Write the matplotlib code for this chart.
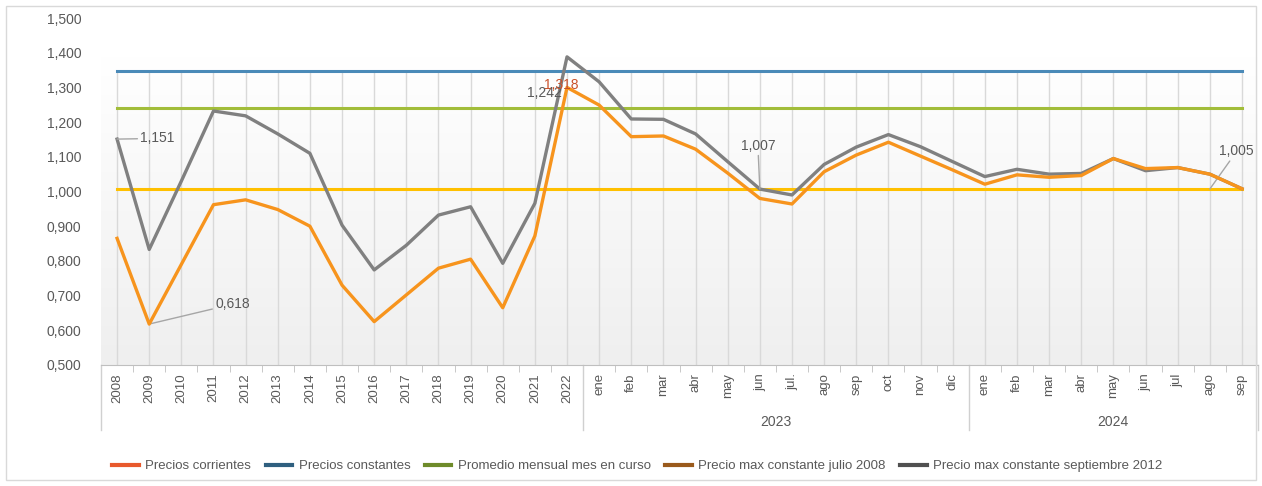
import numpy as np
import matplotlib.pyplot as plt
from matplotlib.lines import Line2D
from matplotlib.ticker import FuncFormatter

plt.rcParams['font.family'] = ['Liberation Sans', 'DejaVu Sans']

# datos
anios = [str(a) for a in range(2008, 2023)]
meses_2023 = ['ene', 'feb', 'mar', 'abr', 'may', 'jun', 'jul.', 'ago', 'sep', 'oct', 'nov', 'dic']
meses_2024 = ['ene', 'feb', 'mar', 'abr', 'may', 'jun', 'jul', 'ago', 'sep']
categorias = anios + meses_2023 + meses_2024

precios_corrientes = [0.865, 0.618, 0.790, 0.962, 0.976, 0.948, 0.900, 0.730, 0.625, 0.702, 0.779, 0.805, 0.665, 0.872, 1.300,
                      1.249, 1.158, 1.160, 1.122, 1.053, 0.980, 0.964, 1.057, 1.105, 1.142, 1.102, 1.062,
                      1.021, 1.048, 1.041, 1.046, 1.095, 1.066, 1.069, 1.050, 1.008]
precios_constantes = [1.151, 0.833, 1.030, 1.232, 1.218, 1.166, 1.110, 0.903, 0.774, 0.845, 0.932, 0.956, 0.793, 0.966, 1.388,
                      1.316, 1.209, 1.208, 1.166, 1.086, 1.007, 0.990, 1.078, 1.128, 1.164, 1.129, 1.086,
                      1.043, 1.064, 1.050, 1.052, 1.095, 1.060, 1.069, 1.050, 1.008]
promedio_mensual = 1.007
max_julio_2008 = 1.347
max_sept_2012 = 1.242

leyenda = ['Precios corrientes', 'Precios constantes', 'Promedio mensual mes en curso',
           'Precio max constante julio 2008', 'Precio max constante septiembre 2012']
colores_leyenda = ['#E8592C', '#2F5F7F', '#6E8B2A', '#9A5A1C', '#505050']

x = np.arange(len(categorias))
gris = '#595959'

fig = plt.figure(figsize=(12.62, 4.86), dpi=100)
ax = fig.add_axes([101 / 1262, 1 - 365 / 486, 1157 / 1262, 347 / 486])

# fondo degradado
grad = np.linspace(0, 1, 256).reshape(-1, 1)
ax.imshow(grad, extent=[-0.5, len(x) - 0.5, 0.5, 1.39], aspect='auto',
          cmap=plt.matplotlib.colors.LinearSegmentedColormap.from_list('g', ['#efefef', '#ffffff']),
          origin='lower', zorder=0)

# rejilla vertical
ax.vlines(x, 0.5, max_julio_2008, color='#d9d9d9', lw=1, zorder=1)

ax.plot([x[0], x[-1]], [max_julio_2008] * 2, color='#4A8AB8', lw=2.2, zorder=2)
ax.plot([x[0], x[-1]], [max_sept_2012] * 2, color='#A2BD3A', lw=2.2, zorder=2)
ax.plot([x[0], x[-1]], [promedio_mensual] * 2, color='#FFC000', lw=2.2, zorder=2)
ax.plot(x, precios_constantes, color='#808080', lw=2.4, zorder=3)
ax.plot(x, precios_corrientes, color='#F7941D', lw=2.4, zorder=4)

ax.set_xlim(-0.5, len(x) - 0.5)
ax.set_ylim(0.5, 1.5)
ax.set_yticks(np.arange(0.5, 1.51, 0.1))
ax.yaxis.set_major_formatter(FuncFormatter(lambda v, p: f'{v:.3f}'.replace('.', ',')))
ax.tick_params(axis='y', length=0, pad=14, labelsize=10, labelcolor=gris)

ax.set_xticks(x)
ax.set_xticklabels(categorias, rotation=90, fontsize=9.5, color=gris)
ax.tick_params(axis='x', which='major', length=0, pad=6)
ax.set_xticks(np.arange(-0.5, len(x), 1), minor=True)
ax.tick_params(axis='x', which='minor', length=5, color='#bfbfbf', direction='out')

for s in ['top', 'right', 'left']:
    ax.spines[s].set_visible(False)
ax.spines['bottom'].set_color('#bfbfbf')

# agrupacion de años
tr = ax.get_xaxis_transform()
n_a = len(anios)
n_23 = len(meses_2023)
for sep in [-0.5, n_a - 0.5, n_a + n_23 - 0.5, len(x) - 0.5]:
    ax.plot([sep, sep], [0, -0.187], transform=tr, color='#d0d0d0', lw=1, clip_on=False)
ax.text(n_a + (n_23 - 1) / 2, -0.165, '2023', transform=tr, ha='center', va='center', fontsize=10, color=gris)
ax.text(n_a + n_23 + (len(meses_2024) - 1) / 2, -0.165, '2024', transform=tr, ha='center', va='center',
        fontsize=10, color=gris)

# etiquetas de datos
ax.annotate('1,151', xy=(0, precios_constantes[0]), xytext=(0.72, 1.153), fontsize=10, color=gris,
            va='center', arrowprops=dict(arrowstyle='-', color='#a6a6a6', lw=1, shrinkA=0, shrinkB=0))
ax.annotate('0,618', xy=(1, precios_corrientes[1]), xytext=(3.05, 0.675), fontsize=10, color=gris,
            va='center', arrowprops=dict(arrowstyle='-', color='#a6a6a6', lw=1, shrinkA=0, shrinkB=0))
ax.text(12.76, 1.284, '1,242', fontsize=10, color=gris, va='center', zorder=5)
ax.text(13.28, 1.307, '1,318', fontsize=10, color='#C9502A', va='center', zorder=5)
ax.annotate('1,007', xy=(20, precios_constantes[20]), xytext=(19.4, 1.132), fontsize=10, color=gris,
            va='center', arrowprops=dict(arrowstyle='-', color='#a6a6a6', lw=1, shrinkA=0, shrinkB=0))
ax.annotate('1,005', xy=(34, promedio_mensual), xytext=(34.3, 1.116), fontsize=10, color=gris,
            va='center', arrowprops=dict(arrowstyle='-', color='#a6a6a6', lw=1, shrinkA=0, shrinkB=0))

handles = [Line2D([], [], color=c, lw=3) for c in colores_leyenda]
fig.legend(handles, leyenda, loc='center', bbox_to_anchor=(0.505, 1 - 466 / 486), ncol=5, frameon=False,
           fontsize=9.5, labelcolor=gris, handlelength=2.0, columnspacing=1.1, handletextpad=0.5)

# marco
fig.add_artist(plt.Rectangle((6 / 1262, 6 / 486), 1250 / 1262, 474 / 486, transform=fig.transFigure,
                             fill=False, edgecolor='#d9d9d9', lw=1))

fig.savefig('out.png', dpi=100)
